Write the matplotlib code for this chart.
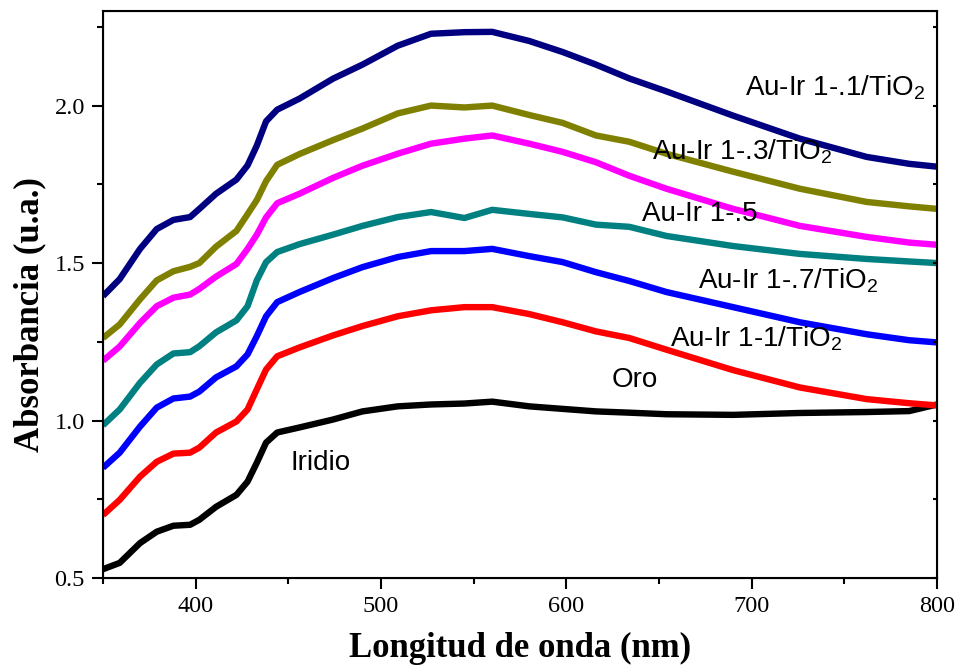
import matplotlib
matplotlib.use("Agg")
import matplotlib.pyplot as plt
from matplotlib.ticker import MultipleLocator

plt.rcParams['font.family'] = ['Liberation Serif', 'DejaVu Serif']
plt.rcParams['mathtext.fontset'] = 'custom'
plt.rcParams['mathtext.rm'] = 'Liberation Sans'

# wavelength grid (nm)
wl = [350, 359, 370, 379, 388, 397, 402, 411, 422, 428, 433, 438, 444, 456,
      474, 490, 509, 527, 545, 560, 580, 598, 616, 634, 654, 690, 726, 762,
      785, 800]

# absorbance spectra
au_ir_01 = [1.395, 1.449, 1.545, 1.608, 1.637, 1.646, 1.672, 1.720, 1.765, 1.810,
            1.873, 1.950, 1.987, 2.022, 2.085, 2.130, 2.190, 2.228, 2.233, 2.234,
            2.205, 2.170, 2.130, 2.086, 2.045, 1.968, 1.895, 1.837, 1.815, 1.806]
au_ir_03 = [1.262, 1.305, 1.385, 1.445, 1.474, 1.488, 1.500, 1.552, 1.602, 1.655,
            1.700, 1.760, 1.812, 1.846, 1.890, 1.927, 1.975, 2.000, 1.994, 2.000,
            1.970, 1.945, 1.905, 1.885, 1.847, 1.790, 1.736, 1.694, 1.680, 1.672]
au_ir_05 = [1.190, 1.235, 1.310, 1.363, 1.390, 1.400, 1.418, 1.457, 1.497, 1.545,
            1.590, 1.645, 1.690, 1.720, 1.770, 1.809, 1.847, 1.879, 1.895, 1.905,
            1.879, 1.853, 1.820, 1.777, 1.736, 1.672, 1.618, 1.583, 1.565, 1.558]
au_ir_07 = [0.985, 1.035, 1.120, 1.178, 1.213, 1.217, 1.236, 1.280, 1.318, 1.363,
            1.445, 1.503, 1.535, 1.560, 1.590, 1.618, 1.646, 1.662, 1.643, 1.669,
            1.656, 1.645, 1.622, 1.615, 1.586, 1.554, 1.529, 1.513, 1.505, 1.500]
au_ir_1 = [0.850, 0.898, 0.981, 1.041, 1.070, 1.076, 1.092, 1.137, 1.172, 1.210,
           1.268, 1.331, 1.376, 1.408, 1.452, 1.487, 1.519, 1.538, 1.538, 1.545,
           1.522, 1.503, 1.471, 1.443, 1.408, 1.360, 1.312, 1.274, 1.255, 1.248]
oro = [0.700, 0.748, 0.822, 0.869, 0.895, 0.898, 0.914, 0.962, 0.997, 1.035,
       1.099, 1.162, 1.204, 1.232, 1.270, 1.300, 1.331, 1.350, 1.360, 1.360,
       1.338, 1.312, 1.283, 1.262, 1.225, 1.160, 1.105, 1.068, 1.055, 1.048]
iridio = [0.528, 0.548, 0.611, 0.647, 0.666, 0.669, 0.685, 0.726, 0.764, 0.806,
          0.866, 0.930, 0.962, 0.978, 1.003, 1.029, 1.045, 1.051, 1.054, 1.060,
          1.045, 1.037, 1.029, 1.025, 1.020, 1.018, 1.024, 1.027, 1.030, 1.051]

series = [iridio, oro, au_ir_1, au_ir_07, au_ir_05, au_ir_03, au_ir_01]
colors = ['black', '#ff0000', '#0000ff', '#008080', '#ff00ff', '#808000', '#000080']

# curve labels: text, x (nm), y (baseline)
labels = ['Au-Ir 1-.1/TiO$_\\mathrm{2}$', 'Au-Ir 1-.3/TiO$_\\mathrm{2}$', 'Au-Ir 1-.5',
          'Au-Ir 1-.7/TiO$_\\mathrm{2}$', 'Au-Ir 1-1/TiO$_\\mathrm{2}$', 'Oro', 'Iridio']
label_x = [696.5, 646.3, 640.9, 671.1, 656.0, 624.7, 451.0]
label_y = [2.032, 1.831, 1.634, 1.420, 1.236, 1.105, 0.844]

fig = plt.figure(figsize=(9.58, 6.67), dpi=100)
ax = fig.add_axes([0.1075, 0.1334, 0.8706, 0.850])

for s, c in zip(series, colors):
    ax.plot(wl, s, color=c, lw=4.6, solid_joinstyle='round', solid_capstyle='butt')

for t, x, y in zip(labels, label_x, label_y):
    ax.text(x, y, t, fontsize=20, family='Liberation Sans', va='baseline', ha='left')

ax.set_xlim(350, 800)
ax.set_ylim(0.5, 2.3)
ax.xaxis.set_major_locator(MultipleLocator(100))
ax.xaxis.set_minor_locator(MultipleLocator(50))
ax.yaxis.set_major_locator(MultipleLocator(0.5))
ax.yaxis.set_minor_locator(MultipleLocator(0.25))
ax.tick_params(which='major', direction='out', length=8, width=1.5, pad=5, labelsize=17.5)
ax.tick_params(which='minor', direction='out', length=4.5, width=1.5)
for sp in ax.spines.values():
    sp.set_linewidth(1.5)

# short inward ticks on the right side
rt = ax.twinx()
rt.set_ylim(ax.get_ylim())
rt.yaxis.set_major_locator(MultipleLocator(0.25))
rt.tick_params(direction='in', length=3, width=1.5, labelright=False)

ax.set_xlabel('Longitud de onda (nm)', fontsize=25, fontweight='bold', labelpad=11)
fig.text(30 / 958, 1 - 315 / 667, 'Absorbancia (u.a.)', fontsize=25, fontweight='bold',
         rotation=90, ha='center', va='center')

fig.savefig('out.png', dpi=100)
